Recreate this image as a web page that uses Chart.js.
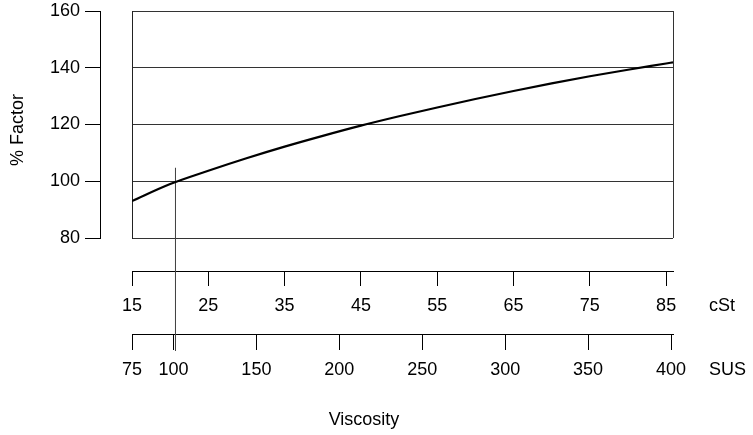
<!DOCTYPE html>
<html>
<head>
<meta charset="utf-8">
<script src="https://cdn.jsdelivr.net/npm/chart.js@4"></script>
<style>
  html, body { margin: 0; padding: 0; background: #fff; }
</style>
</head>
<body>
<canvas id="chart" width="753" height="435"></canvas>
<script>
// viscosity in cSt vs % factor
const cst = [15, 20, 25, 30, 35, 40, 45, 50, 55, 60, 65, 70, 75, 80, 85, 85.9]
const factor = [93.0, 99.0, 103.7, 108.1, 112.2, 116.0, 119.6, 122.9, 126.0, 129.0, 131.8, 134.5, 137.0, 139.3, 141.5, 141.9]

// the marker line at 100 SUS
const markerCst = [20.7, 20.7]
const markerFactor = [104.7, 40.2]

const cstTicks = [15, 25, 35, 45, 55, 65, 75, 85]
const susTicks = [75, 100, 150, 200, 250, 300, 350, 400]
const cstRange = [15, 85.9]
const susRange = [75, 401.2]

const FONT = "'Liberation Sans', Arial, Helvetica, sans-serif"
Chart.defaults.font.family = FONT
Chart.defaults.font.size = 18
Chart.defaults.color = "#000"

const setTicks = list => scale => { scale.ticks = list.map(v => ({ value: v })) }

// unit names beside the two bottom axes, plus the two axis titles
const axisText = {
  id: "axisText",
  afterDraw(chart) {
    const { ctx, chartArea, scales } = chart
    ctx.save()
    ctx.font = "18px " + FONT
    ctx.fillStyle = "#000"
    ctx.textAlign = "left"
    ctx.textBaseline = "middle"
    const x = chartArea.right + 36
    ctx.fillText("cSt", x, scales.cst.top + 35)
    ctx.fillText("SUS", x, scales.sus.top + 36)
    ctx.textAlign = "center"
    ctx.fillText("Viscosity", chartArea.left + 232, scales.sus.top + 86)
    ctx.translate(18, chartArea.top + 119)
    ctx.rotate(-Math.PI / 2)
    ctx.fillText("% Factor", 0, 0)
    ctx.restore()
  }
}

new Chart(document.getElementById("chart"), {
  type: "line",
  data: {
    datasets: [
      {
        data: cst.map((c, i) => ({ x: c, y: factor[i] })),
        borderColor: "#000",
        borderWidth: 2.2,
        pointRadius: 0,
        cubicInterpolationMode: "monotone",
        fill: false
      },
      {
        data: markerCst.map((c, i) => ({ x: c, y: markerFactor[i] })),
        borderColor: "#444",
        borderWidth: 1,
        pointRadius: 0,
        clip: false,
        fill: false
      }
    ]
  },
  options: {
    responsive: false,
    animation: false,
    layout: { padding: { top: 11, right: 80, left: 0, bottom: 0 } },
    plugins: { legend: { display: false }, tooltip: { enabled: false } },
    scales: {
      x: {
        type: "linear",
        position: "bottom",
        weight: 0,
        min: cstRange[0],
        max: cstRange[1],
        afterBuildTicks: s => { s.ticks = [{ value: s.min }, { value: s.max }] },
        afterFit: s => { s.height = 33 },
        ticks: { display: false },
        grid: { color: "#333", drawTicks: false },
        border: { display: false }
      },
      cst: {
        type: "linear",
        position: "bottom",
        weight: 1,
        min: cstRange[0],
        max: cstRange[1],
        afterBuildTicks: setTicks(cstTicks),
        afterFit: s => { s.height = 63; s.paddingLeft = 0; s.paddingRight = 0 },
        ticks: { autoSkip: false, maxRotation: 0, padding: 9 },
        grid: { drawOnChartArea: false, tickLength: 15, color: "#000" },
        border: { display: true, color: "#000" }
      },
      sus: {
        type: "linear",
        position: "bottom",
        weight: 2,
        min: susRange[0],
        max: susRange[1],
        afterBuildTicks: setTicks(susTicks),
        afterFit: s => { s.height = 101; s.paddingLeft = 0; s.paddingRight = 0 },
        ticks: { autoSkip: false, maxRotation: 0, padding: 9 },
        grid: { drawOnChartArea: false, tickLength: 16, color: "#000" },
        border: { display: true, color: "#000" }
      },
      y: {
        type: "linear",
        position: "left",
        weight: 0,
        min: 80,
        max: 160,
        ticks: { display: false, stepSize: 20 },
        afterFit: s => { s.width = 32; s.paddingTop = 0; s.paddingBottom = 0 },
        grid: { color: "#333", drawTicks: false },
        border: { display: true, color: "#222" }
      },
      yLabels: {
        type: "linear",
        position: "left",
        weight: 1,
        min: 80,
        max: 160,
        ticks: { stepSize: 20, padding: 5 },
        afterFit: s => { s.width = 100; s.paddingTop = 0; s.paddingBottom = 0 },
        grid: { drawOnChartArea: false, tickLength: 15, color: "#000" },
        border: { display: true, color: "#000" }
      }
    }
  },
  plugins: [axisText]
})
</script>
</body>
</html>
